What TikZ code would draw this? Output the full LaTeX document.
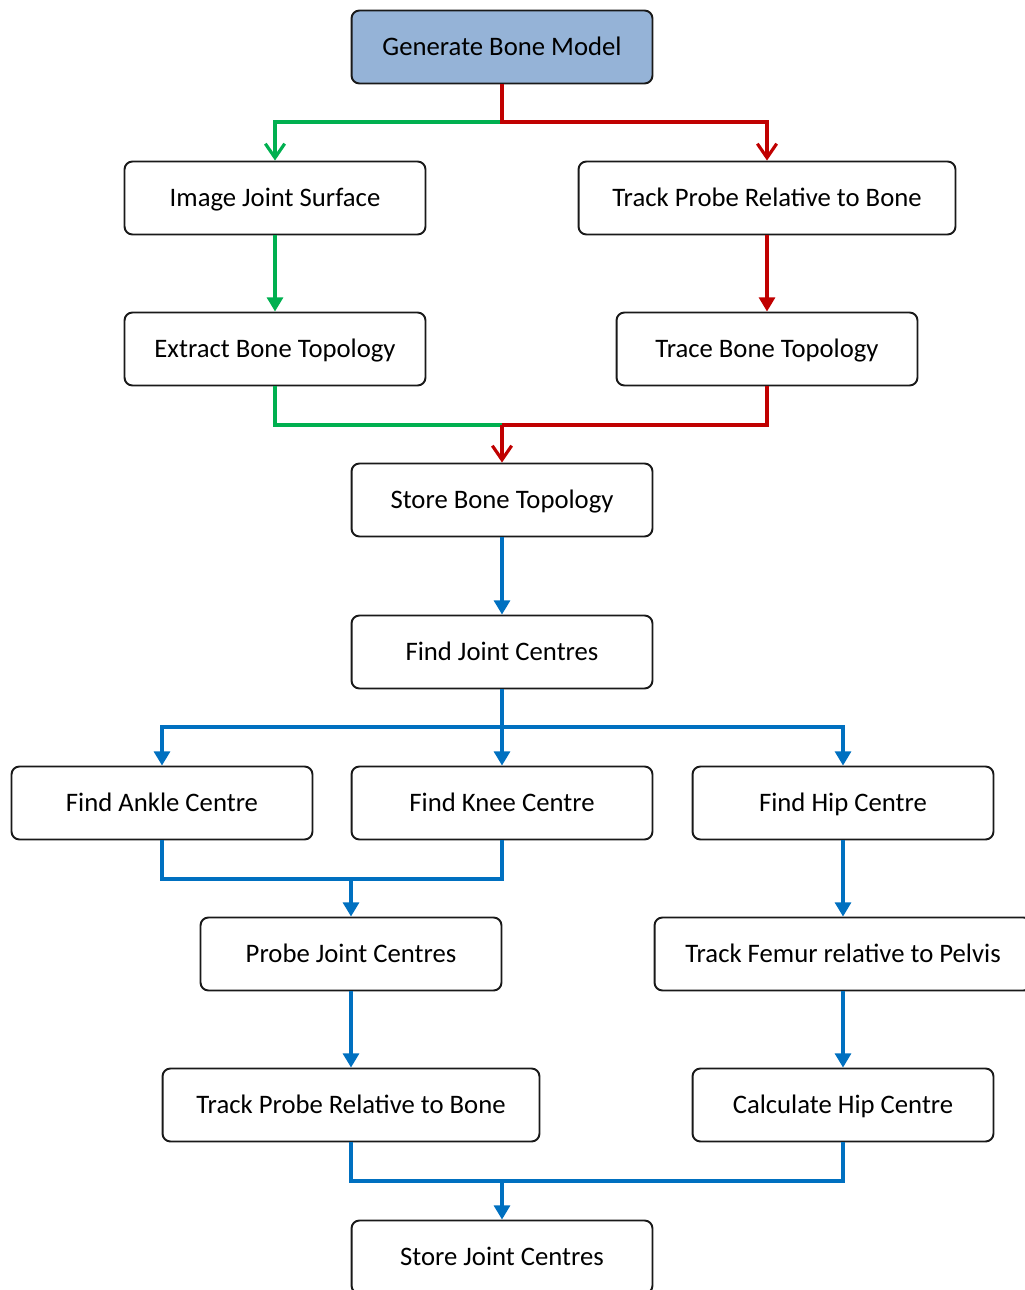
\documentclass[tikz,border=0pt]{standalone}
\usepackage{fontspec}
\setmainfont{Carlito}
\usetikzlibrary{arrows.meta}
\definecolor{boxfill}{HTML}{95B3D7}
\definecolor{flowgreen}{HTML}{00B050}
\definecolor{flowred}{HTML}{C00000}
\definecolor{flowblue}{HTML}{0070C0}
\begin{document}
\begin{tikzpicture}[x=0.02cm,y=-0.02cm,
  stepbox/.style={draw=black!90,line width=1.1pt,rounded corners=4.5pt,
    minimum width=6.02cm,minimum height=1.46cm,inner sep=0pt,
    text height=11pt,text depth=1pt,
    font=\fontsize{15.2}{18}\selectfont,fill=white},
  widebox/.style={stepbox,minimum width=7.54cm},
  headbox/.style={stepbox,fill=boxfill},
  conn/.style={line width=1.8pt},
  openhead/.style={conn,-{Straight Barb[length=8pt,width=11pt,line width=1.8pt]}},
  solidhead/.style={conn,-{Triangle[length=8pt,width=9pt]}},
]
\useasboundingbox (0,0) rectangle (1024,1290);

% boxes
\node[headbox] (gen) at (502,47) {Generate Bone Model};
\node[stepbox] (img) at (275,198) {Image Joint Surface};
\node[widebox] (tpb) at (767,198) {Track Probe Relative to Bone};
\node[stepbox] (ext) at (275,349) {Extract Bone Topology};
\node[stepbox] (trc) at (767,349) {Trace Bone Topology};
\node[stepbox] (sbt) at (502,500) {Store Bone Topology};
\node[stepbox] (fjc) at (502,652) {Find Joint Centres};
\node[stepbox] (ank) at (162,803) {Find Ankle Centre};
\node[stepbox] (kne) at (502,803) {Find Knee Centre};
\node[stepbox] (hip) at (843,803) {Find Hip Centre};
\node[stepbox] (pjc) at (351,954) {Probe Joint Centres};
\node[widebox] (tfp) at (843,954) {Track Femur relative to Pelvis};
\node[widebox] (tpb2) at (351,1105) {Track Probe Relative to Bone};
\node[stepbox] (chc) at (843,1105) {Calculate Hip Centre};
\node[stepbox] (sjc) at (502,1257) {Store Joint Centres};

% junction points
\coordinate (j1) at (502,122);
\coordinate (j2) at (502,425);
\coordinate (j3) at (502,727);
\coordinate (j4) at (351,879);
\coordinate (j5) at (502,1181);

% imaging branch (green) and probing branch (red)
\draw[openhead,flowgreen] (j1) -| (img.north);
\draw[solidhead,flowgreen] (img.south) -- (ext.north);
\draw[conn,flowgreen] (ext.south) |- (j2);
\draw[openhead,flowred] (gen.south) -- (j1) -| (tpb.north);
\draw[solidhead,flowred] (tpb.south) -- (trc.north);
\draw[conn,flowred] (trc.south) |- (j2);
\draw[openhead,flowred] (j2) -- (sbt.north);

% joint centre flow (blue)
\begin{scope}[flowblue]
\draw[solidhead] (sbt.south) -- (fjc.north);
\draw[solidhead] (fjc.south) -- (kne.north);
\draw[solidhead] (j3) -| (ank.north);
\draw[solidhead] (j3) -| (hip.north);
\draw[conn] (ank.south) |- (j4) -| (kne.south);
\draw[solidhead] (j4) -- (pjc.north);
\draw[solidhead] (hip.south) -- (tfp.north);
\draw[solidhead] (pjc.south) -- (tpb2.north);
\draw[solidhead] (tfp.south) -- (chc.north);
\draw[conn] (tpb2.south) |- (j5) -| (chc.south);
\draw[solidhead] (j5) -- (sjc.north);
\end{scope}
\end{tikzpicture}
\end{document}
